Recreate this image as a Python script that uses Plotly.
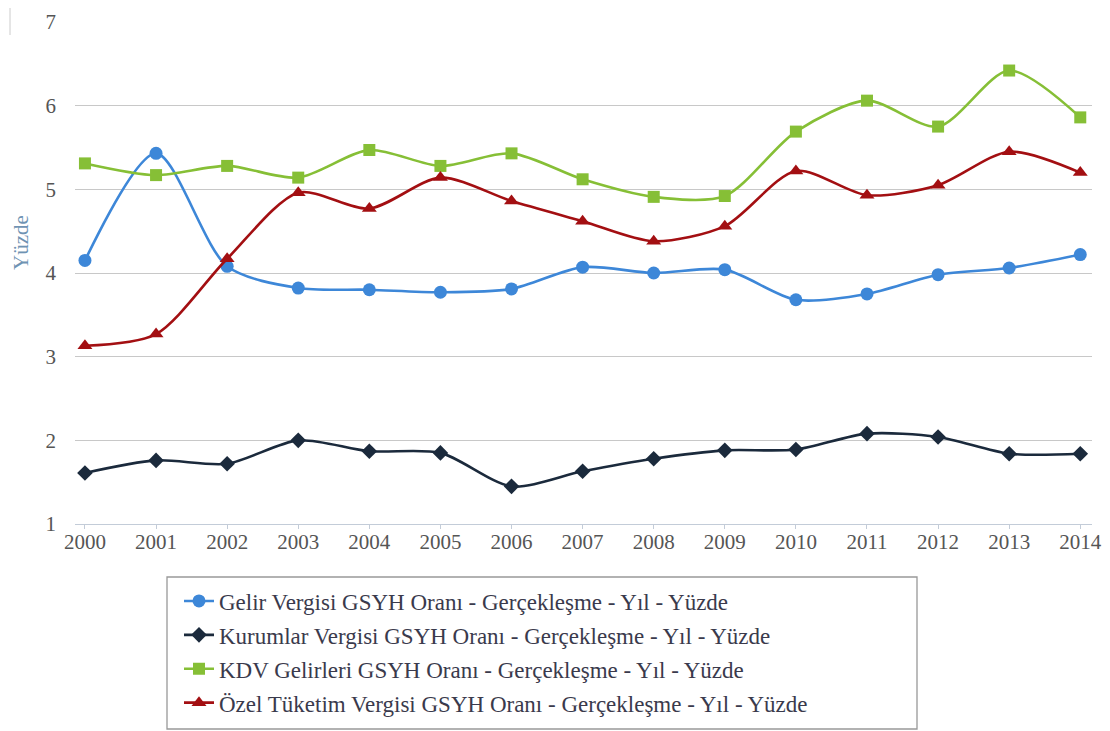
import plotly.graph_objects as go

years = list(range(2000, 2015))
gelir = [4.15, 5.43, 4.08, 3.82, 3.80, 3.77, 3.81, 4.07, 4.00, 4.04, 3.68, 3.75, 3.98, 4.06, 4.22]
kurumlar = [1.61, 1.76, 1.72, 2.00, 1.87, 1.85, 1.45, 1.63, 1.78, 1.88, 1.89, 2.08, 2.04, 1.84, 1.84]
kdv = [5.31, 5.17, 5.28, 5.14, 5.47, 5.28, 5.43, 5.12, 4.91, 4.92, 5.69, 6.06, 5.75, 6.42, 5.86]
otv = [3.13, 3.27, 4.17, 4.96, 4.77, 5.14, 4.86, 4.62, 4.38, 4.56, 5.22, 4.93, 5.05, 5.45, 5.20]

names = [
    "Gelir Vergisi GSYH Oranı - Gerçekleşme - Yıl - Yüzde",
    "Kurumlar Vergisi GSYH Oranı - Gerçekleşme - Yıl - Yüzde",
    "KDV Gelirleri GSYH Oranı - Gerçekleşme - Yıl - Yüzde",
    "Özel Tüketim Vergisi GSYH Oranı - Gerçekleşme - Yıl - Yüzde",
]
series = [gelir, kurumlar, kdv, otv]
colors = ["#3d87d8", "#1b2a3c", "#86bf36", "#a30f12"]
symbols = ["circle", "diamond", "square", "triangle-up"]
sizes = [13, 12, 12, 13]
y_title = "Yüzde"

SERIF = "Liberation Serif"

# plot area in figure pixels
L, T, W, H = 67, 14, 1017, 502
FW, FH = 1110, 731

def px(x):
    return (x - L) / W

def py(y):
    return (T + H - y) / H

fig = go.Figure()
for i, (nm, vals) in enumerate(zip(names, series)):
    fig.add_trace(go.Scatter(
        x=years, y=vals, name=nm, mode="lines+markers",
        line=dict(color=colors[i], width=2.6, shape="spline", smoothing=0.8),
        marker=dict(symbol=symbols[i], size=sizes[i], color=colors[i]),
        legendgroup=str(i),
    ))

fig.update_layout(
    width=FW, height=FH,
    margin=dict(l=L, r=FW - L - W, t=T, b=FH - T - H, autoexpand=False),
    paper_bgcolor="white", plot_bgcolor="white",
    font=dict(family=SERIF, color="#555555", size=21),
    xaxis=dict(
        range=[1999.86, 2014.165], tickmode="array", tickvals=years,
        ticktext=[str(y) for y in years], showgrid=False,
        showline=True, linecolor="#c3ccd8", linewidth=1,
        ticks="outside", ticklen=4, tickcolor="#c3ccd8", ticklabelstandoff=-5,
        tickfont=dict(family=SERIF, size=21, color="#555555"), zeroline=False,
    ),
    yaxis=dict(
        range=[1, 7], dtick=1, showgrid=True, gridcolor="#c8c8c8", gridwidth=1,
        zeroline=False, showline=False, ticks="", ticklabelstandoff=18,
        tickfont=dict(family=SERIF, size=21, color="#555555"),
    ),
    legend=dict(
        xref="container", yref="container",
        x=171 / FW, y=1 - 571.5 / FH, xanchor="left", yanchor="top",
        bgcolor="rgba(0,0,0,0)", borderwidth=0,
        font=dict(family=SERIF, size=23, color="#3a3a4c"),
        tracegroupgap=1, itemwidth=30,
    ),
    annotations=[
        dict(text=y_title, textangle=-90, xref="paper", yref="paper",
             x=px(13), y=py(235), xanchor="center", yanchor="middle",
             showarrow=False, font=dict(family=SERIF, size=21, color="#6f93b3")),
    ],
    shapes=[
        dict(type="rect", xref="paper", yref="paper",
             x0=px(159), x1=px(909), y0=py(721), y1=py(569),
             line=dict(color="#999999", width=1.3), fillcolor="rgba(0,0,0,0)"),
        dict(type="line", xref="paper", yref="paper",
             x0=px(2), x1=px(2), y0=py(27), y1=py(-3),
             line=dict(color="#cccccc", width=1)),
    ],
)

fig.write_html("out.html")
